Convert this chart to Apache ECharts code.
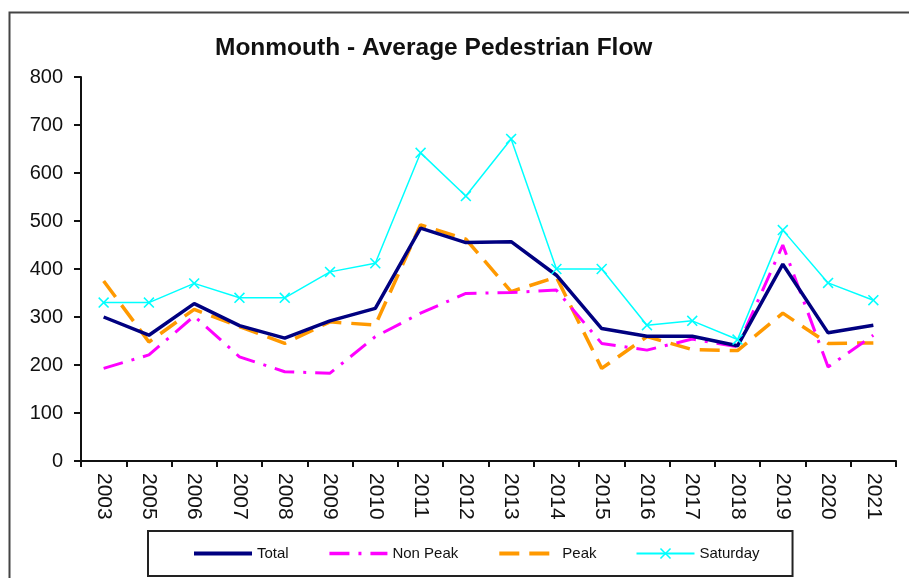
<!DOCTYPE html>
<html>
<head>
<meta charset="utf-8">
<script src="https://cdn.jsdelivr.net/npm/echarts@6/dist/echarts.min.js"></script>
<style>
  html, body { margin: 0; padding: 0; background: #fff; }
  #chart { width: 909px; height: 578px; }
</style>
</head>
<body>
<div id="chart"></div>
<script>
  // data
  var years = ['2003', '2005', '2006', '2007', '2008', '2009', '2010', '2011', '2012',
    '2013', '2014', '2015', '2016', '2017', '2018', '2019', '2020', '2021']
  var total = [300, 262, 328, 282, 256, 292, 318, 485, 455, 457, 387, 276, 260, 260, 240, 410, 267, 283]
  var nonPeak = [193, 221, 302, 217, 186, 183, 259, 308, 349, 351, 356, 245, 231, 254, 238, 450, 196, 262]
  var peak = [375, 248, 316, 280, 245, 290, 283, 492, 462, 353, 383, 193, 259, 232, 230, 308, 245, 246]
  var saturday = [330, 330, 370, 340, 340, 394, 412, 642, 552, 671, 400, 400, 283, 292, 253, 481, 371, 335]

  var myChart = echarts.init(document.getElementById('chart'))
  var font = 'Liberation Sans, Arial, sans-serif'
  var crossIcon = 'path://M0,1L1,0L5,4L9,0L10,1L6,5L10,9L9,10L5,6L1,10L0,9L4,5Z'

  var option = {
    animation: false,
    backgroundColor: '#fff',
    title: {
      text: 'Monmouth - Average Pedestrian Flow',
      left: 215,
      top: 36,
      padding: 0,
      textStyle: {
        fontFamily: font,
        fontSize: 24.5,
        fontWeight: 'bold',
        color: '#111'
      }
    },
    graphic: [{
      type: 'rect',
      shape: { x: 9.5, y: 12.5, width: 1000, height: 1000 },
      style: { fill: 'none', stroke: '#444', lineWidth: 2 },
      silent: true
    }],
    legend: {
      left: 148,
      top: 531,
      padding: [15, 33, 15, 44],
      itemWidth: 58,
      itemHeight: 14,
      itemGap: 39,
      borderColor: '#222',
      borderWidth: 2,
      textStyle: {
        fontFamily: font,
        fontSize: 15,
        color: '#111'
      },
      // lines only, no dot in the middle
      data: [
        { name: 'Total', itemStyle: { opacity: 0 }, lineStyle: { width: 4 } },
        { name: 'Non Peak', itemStyle: { opacity: 0 }, lineStyle: { width: 3.5 } },
        { name: 'Peak', itemStyle: { opacity: 0 }, lineStyle: { width: 4 } },
        'Saturday'
      ]
    },
    grid: {
      left: 81,
      right: 13,
      top: 77,
      bottom: 117,
      outerBoundsMode: 'none'
    },
    xAxis: {
      type: 'category',
      data: years,
      boundaryGap: true,
      axisLine: { lineStyle: { color: '#111', width: 2 } },
      axisTick: { show: true, length: 6, lineStyle: { color: '#111', width: 2 } },
      axisLabel: {
        rotate: -90,
        margin: 12,
        interval: 0,
        fontFamily: font,
        fontSize: 21,
        color: '#111'
      },
      splitLine: { show: false }
    },
    yAxis: {
      type: 'value',
      min: 0,
      max: 800,
      interval: 100,
      axisLine: { show: true, lineStyle: { color: '#111', width: 2 } },
      axisTick: { show: true, length: 7, lineStyle: { color: '#111', width: 2 } },
      axisLabel: {
        margin: 18,
        fontFamily: font,
        fontSize: 20,
        color: '#111'
      },
      splitLine: { show: false }
    },
    series: [{
      name: 'Total',
      type: 'line',
      data: total,
      symbol: 'none',
      itemStyle: { color: '#000080' },
      lineStyle: { color: '#000080', width: 3.5 },
      z: 4
    }, {
      name: 'Non Peak',
      type: 'line',
      data: nonPeak,
      symbol: 'none',
      itemStyle: { color: '#ff00ff' },
      lineStyle: { color: '#ff00ff', width: 3, type: [20, 9, 3, 9] },
      z: 3
    }, {
      name: 'Peak',
      type: 'line',
      data: peak,
      symbol: 'none',
      itemStyle: { color: '#ff9900' },
      lineStyle: { color: '#ff9900', width: 3.5, type: [20, 10] },
      z: 2
    }, {
      name: 'Saturday',
      type: 'line',
      data: saturday,
      symbol: crossIcon,
      symbolSize: 11,
      showAllSymbol: true,
      itemStyle: { color: '#00ffff' },
      lineStyle: { color: '#00ffff', width: 1.5 },
      z: 5
    }]
  }

  myChart.setOption(option)
</script>
</body>
</html>
